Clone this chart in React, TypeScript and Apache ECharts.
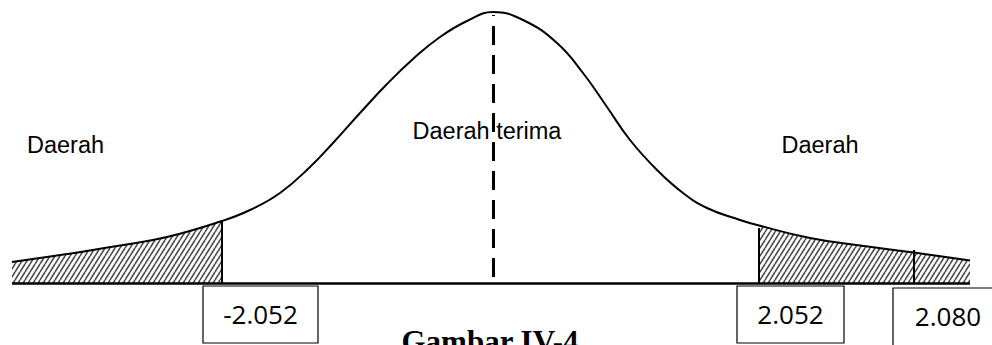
import React, { useEffect, useRef } from "react";
import * as echarts from "echarts";

// Curve (x: position, centre = 0; y: height above the baseline)
const curveX = [-4.81, -4.26, -3.76, -3.26, -2.71, -2.43, -2.13, -1.83, -1.6, -1.33, -1.06, -0.8, -0.53, -0.26, 0, 0.3, 0.64, 0.9, 1.14, 1.37, 1.64, 1.9, 2.14, 2.47, 2.66, 3.17, 3.67, 4.21, 4.77];
const curveY = [0.21, 0.29, 0.37, 0.46, 0.62, 0.73, 0.9, 1.16, 1.4, 1.7, 1.99, 2.24, 2.46, 2.62, 2.71, 2.63, 2.4, 2.1, 1.76, 1.43, 1.13, 0.9, 0.75, 0.63, 0.575, 0.45, 0.375, 0.305, 0.225];

// Critical values: where the vertical lines stand and how high they reach
const criticalX = [-2.71, 2.66, 4.21];
const criticalTop = [0.62, 0.55, 0.33];
const tickLabels = ["-2.052", "2.052", "2.080"];
const labelBoxX = [-2.325, 2.975, 4.55];

// Region labels
const regionLabels = ["Daerah", "Daerah terima", "Daerah"];
const regionLabelX = [-4.275, -0.06, 3.27];
const regionLabelY = [1.38, 1.52, 1.38];

const captionText = "Gambar IV-4";

// Layout / style constants
const BOX_W = [115, 107, 110];
const BOX_TOP = [3, 3, 5];
const BOX_H = 57;
const BOX_OPEN = [false, false, true];
const SMOOTH = 0.45;

export default function App() {
  const ref = useRef<HTMLDivElement>(null);

  useEffect(() => {
    if (!ref.current) return;
    const chart = echarts.init(ref.current, undefined, { renderer: "svg" });

    const c = document.createElement("canvas");
    c.width = 5;
    c.height = 8;
    const g = c.getContext("2d")!;
    g.strokeStyle = "#4a4a4a";
    g.lineWidth = 1.6;
    for (const x0 of [-5, 0, 5]) {
      g.beginPath();
      g.moveTo(x0, 8);
      g.lineTo(x0 + 5, 0);
      g.stroke();
    }
    const hatch: any = { image: c.toDataURL(), repeat: "repeat", imageWidth: 5, imageHeight: 8 };

    const curve = curveX.map((x, i) => [x, curveY[i]]);
    const leftTail = curve.filter((p) => p[0] <= criticalX[0] + 1e-9);
    const rightTail = curve.filter((p) => p[0] >= criticalX[1] - 1e-9);

    const lineStyleSolid = { color: "#000", width: 2, type: "solid" as const };

    chart.setOption({
      animation: false,
      grid: { left: 0, right: 0, top: 0, bottom: 0 },
      xAxis: { type: "value", min: -4.93, max: 4.99, show: false },
      yAxis: { type: "value", min: -0.62, max: 2.83, show: false },
      series: [
        {
          type: "line",
          data: leftTail,
          smooth: SMOOTH,
          symbol: "none",
          lineStyle: { width: 0 },
          areaStyle: { color: hatch, opacity: 1 },
          silent: true,
          z: 1,
        },
        {
          type: "line",
          data: rightTail,
          smooth: SMOOTH,
          symbol: "none",
          lineStyle: { width: 0 },
          areaStyle: { color: hatch, opacity: 1 },
          silent: true,
          z: 1,
        },
        {
          type: "line",
          data: curve,
          smooth: SMOOTH,
          symbol: "none",
          lineStyle: { color: "#000", width: 2 },
          silent: true,
          z: 3,
          markLine: {
            silent: true,
            symbol: ["none", "none"],
            label: { show: false },
            data: [
              [
                { coord: [curveX[0], 0], lineStyle: { color: "#000", width: 2.5, type: "solid" } },
                { coord: [curveX[curveX.length - 1], 0] },
              ],
              [
                { coord: [0, 0.06], lineStyle: { color: "#000", width: 3, type: [19, 10] } },
                { coord: [0, 2.68] },
              ],
              ...criticalX.map((x, i) => [
                { coord: [x, 0], lineStyle: lineStyleSolid },
                { coord: [x, criticalTop[i]] },
              ]),
            ],
          },
        },
        {
          type: "scatter",
          data: regionLabels.map((t, i) => ({ name: t, value: [regionLabelX[i], regionLabelY[i]] })),
          symbolSize: 0,
          silent: true,
          z: 5,
          itemStyle: { opacity: 1 },
          label: {
            show: true,
            position: "inside",
            formatter: (p: any) => p.name,
            color: "#000",
            opacity: 1,
            fontSize: 23.5,
            fontFamily: "'Liberation Sans', Arial, sans-serif",
          },
        },
        {
          type: "custom",
          silent: true,
          z: 5,
          data: labelBoxX.map((x, i) => [x, 0, i]),
          renderItem: (params: any, api: any) => {
            const i = params.dataIndex;
            const pt = api.coord([api.value(0), 0]);
            const cx = pt[0];
            const cy = pt[1];
            const w = BOX_W[i];
            const left = cx - w / 2;
            const top = cy + BOX_TOP[i];
            const boxStyle = { stroke: "#000", lineWidth: 1.2, fill: "none" };
            const box = BOX_OPEN[i]
              ? {
                  type: "polyline",
                  shape: { points: [[left, top + BOX_H], [left, top], [left + w, top]] },
                  style: boxStyle,
                }
              : {
                  type: "rect",
                  shape: { x: left, y: top, width: w, height: BOX_H },
                  style: { ...boxStyle, fill: "#fff" },
                };
            return {
              type: "group",
              children: [
                box,
                {
                  type: "text",
                  x: cx,
                  y: top + 28,
                  style: {
                    text: tickLabels[i],
                    fill: "#000",
                    fontSize: 26,
                    fontFamily: "'Open Sans', sans-serif",
                    align: "center",
                    verticalAlign: "middle",
                  },
                },
              ],
            };
          },
        },
      ],
      graphic: [
        {
          type: "text",
          x: 490,
          y: 341,
          silent: true,
          style: {
            text: captionText,
            fill: "#000",
            fontSize: 31,
            fontWeight: "bold",
            fontFamily: "'Liberation Serif', 'Times New Roman', serif",
            align: "center",
            verticalAlign: "middle",
          },
        },
      ],
    });

    return () => chart.dispose();
  }, []);

  return (
    <div
      ref={ref}
      style={{ position: "absolute", left: 0, top: 0, width: 992, height: 345, background: "#fff" }}
    />
  );
}
